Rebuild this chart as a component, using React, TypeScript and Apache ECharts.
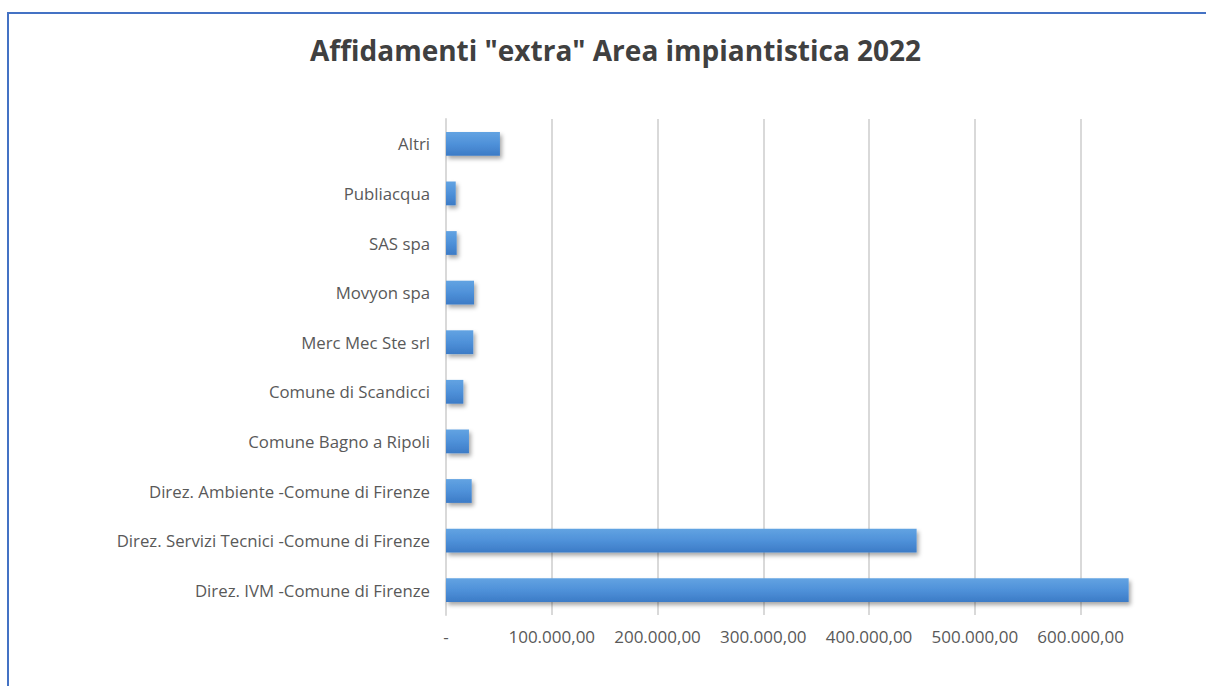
import React, { useEffect, useRef } from "react";
import * as echarts from "echarts";

const titleText = 'Affidamenti "extra" Area impiantistica 2022';
const categories = [
  "Direz. IVM -Comune di Firenze",
  "Direz. Servizi Tecnici -Comune di Firenze",
  "Direz. Ambiente -Comune di Firenze",
  "Comune Bagno a Ripoli",
  "Comune di Scandicci",
  "Merc Mec Ste srl",
  "Movyon spa",
  "SAS spa",
  "Publiacqua",
  "Altri",
];
const values = [645500, 445000, 24300, 21700, 16400, 25800, 26500, 10100, 9200, 51000];

function fmt(v: number): string {
  if (v === 0) return "-";
  const s = Math.round(v).toString().replace(/\B(?=(\d{3})+(?!\d))/g, ".");
  return s + ",00";
}

export default function App() {
  const ref = useRef<HTMLDivElement>(null);
  useEffect(() => {
    if (!ref.current) return;
    const chart = echarts.init(ref.current, null, { renderer: "svg" });
    chart.setOption({
      animation: false,
      backgroundColor: "#ffffff",
      title: {
        text: titleText,
        left: 305,
        top: 31,
        textStyle: {
          fontFamily: "Open Sans",
          fontSize: 28,
          fontWeight: "bold",
          color: "#404040",
        },
      },
      graphic: [
        {
          type: "rect",
          shape: { x: 8, y: 13, width: 1400, height: 900 },
          style: { fill: "none", stroke: "#4472c4", lineWidth: 2 },
          silent: true,
        },
      ],
      grid: { left: 446, right: 62, top: 119, bottom: 71, containLabel: false },
      xAxis: {
        type: "value",
        min: 0,
        max: 660000,
        interval: 100000,
        axisLine: { show: false },
        axisTick: { show: false },
        axisLabel: {
          formatter: fmt,
          showMaxLabel: false,
          color: "#595959",
          fontFamily: "Open Sans",
          fontSize: 17,
          margin: 13,
        },
        splitLine: {
          show: true,
          showMinLine: false,
          showMaxLine: false,
          lineStyle: { color: "#d9d9d9", width: 2 },
        },
      },
      yAxis: {
        type: "category",
        data: categories,
        axisLine: { show: true, lineStyle: { color: "#d9d9d9", width: 2 } },
        axisTick: { show: false },
        axisLabel: {
          color: "#595959",
          fontFamily: "Open Sans",
          fontSize: 16.8,
          margin: 16,
        },
      },
      series: [
        {
          type: "bar",
          data: values,
          barWidth: "48%",
          itemStyle: {
            color: new echarts.graphic.LinearGradient(0, 0, 0, 1, [
              { offset: 0, color: "#62a3e2" },
              { offset: 0.5, color: "#4f91d9" },
              { offset: 1, color: "#3c7bc6" },
            ]),
            shadowColor: "rgba(0,0,0,0.35)",
            shadowBlur: 4,
            shadowOffsetX: 2,
            shadowOffsetY: 3,
          },
        },
      ],
    });
    return () => chart.dispose();
  }, []);
  return (
    <div
      ref={ref}
      style={{ position: "absolute", left: 0, top: 0, width: 1206, height: 686 }}
    />
  );
}
